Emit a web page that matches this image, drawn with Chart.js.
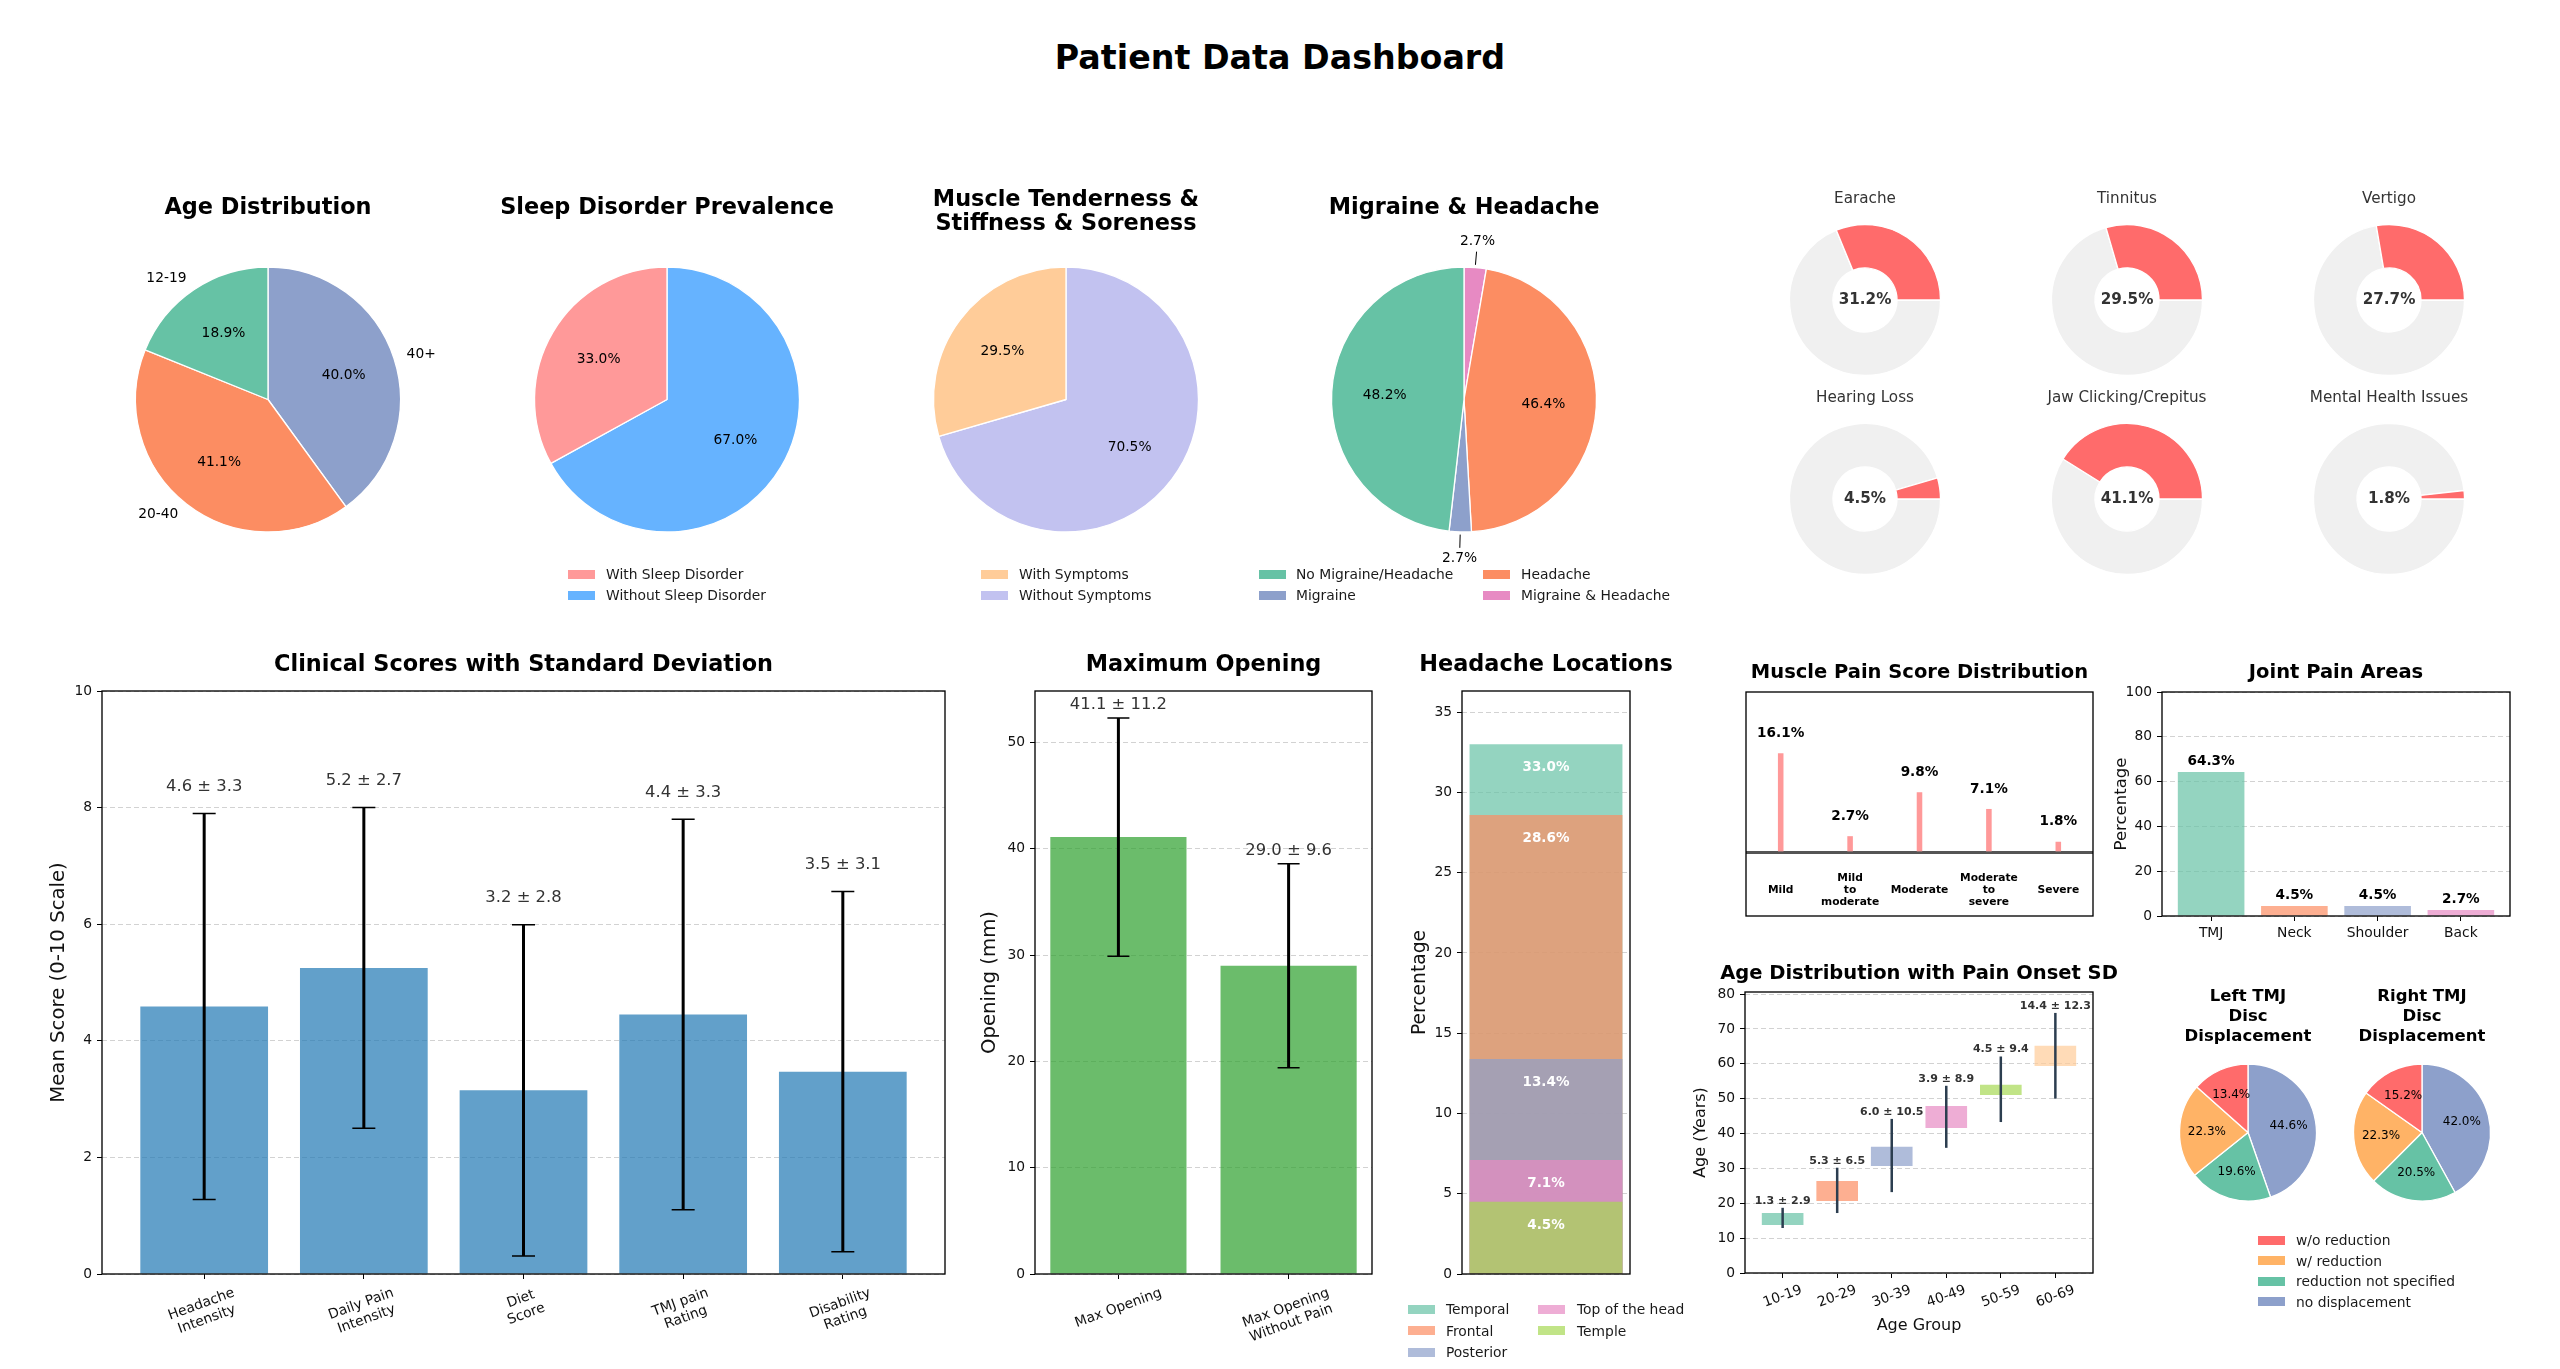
<!DOCTYPE html>
<html>
<head>
<meta charset="utf-8">
<title>Patient Data Dashboard</title>
<script src="https://cdn.jsdelivr.net/npm/chart.js@4"></script>
<style>
  html, body { margin: 0; background: #fff; }
  body { position: relative; width: 2560px; height: 1369px; overflow: hidden; font-family: "DejaVu Sans", sans-serif; }
  canvas { position: absolute; }
  h1 { position: absolute; left: 0; width: 2560px; top: 38px; margin: 0; text-align: center; font-size: 33.3px; line-height: 40px; font-weight: bold; color: #000; }
  .swatch { position: absolute; height: 9px; }
  .legendText { position: absolute; font-size: 13.85px; line-height: 16px; color: #1a1a1a; white-space: nowrap; }
</style>
</head>
<body>
<h1>Patient Data Dashboard</h1>
<script>
// ---- data ----
const ageLabels = ["12-19", "20-40", "40+"];
const ageShare = [18.9, 41.1, 40.0];

const sleepLabels = ["With Sleep Disorder", "Without Sleep Disorder"];
const sleepShare = [33.0, 67.0];

const tendernessLabels = ["With Symptoms", "Without Symptoms"];
const tendernessShare = [29.5, 70.5];

const migraineLabels = ["No Migraine/Headache", "Migraine", "Headache", "Migraine & Headache"];
const migraineShare = [48.2, 2.7, 46.4, 2.7];

const symptomNames = ["Earache", "Tinnitus", "Vertigo", "Hearing Loss", "Jaw Clicking/Crepitus", "Mental Health Issues"];
const symptomShare = [31.2, 29.5, 27.7, 4.5, 41.1, 1.8];

const clinicalLabels = [["Headache", "Intensity"], ["Daily Pain", "Intensity"], ["Diet", "Score"], ["TMJ pain", "Rating"], ["Disability", "Rating"]];
const clinicalMean = [4.59, 5.25, 3.15, 4.45, 3.47];
const clinicalSd = [3.31, 2.75, 2.84, 3.35, 3.09];
const clinicalText = ["4.6 ± 3.3", "5.2 ± 2.7", "3.2 ± 2.8", "4.4 ± 3.3", "3.5 ± 3.1"];

const openingLabels = [["Max Opening"], ["Max Opening", "Without Pain"]];
const openingMean = [41.1, 29.0];
const openingSd = [11.2, 9.6];
const openingText = ["41.1 ± 11.2", "29.0 ± 9.6"];

const headacheLabels = ["Temporal", "Frontal", "Posterior", "Top of the head", "Temple"];
const headacheShare = [33.0, 28.6, 13.4, 7.1, 4.5];

const musclePainLabels = [["Mild"], ["Mild", "to", "moderate"], ["Moderate"], ["Moderate", "to", "severe"], ["Severe"]];
const musclePainShare = [16.1, 2.7, 9.8, 7.1, 1.8];

const jointLabels = ["TMJ", "Neck", "Shoulder", "Back"];
const jointShare = [64.3, 4.5, 4.5, 2.7];

const ageGroupLabels = ["10-19", "20-29", "30-39", "40-49", "50-59", "60-69"];
const ageGroupLow = [13.5, 20.4, 30.4, 41.3, 50.8, 59.1];
const ageGroupHigh = [17.5, 26.7, 36.5, 48.2, 54.3, 65.5];
const onsetCentre = [15.8, 23.7, 33.7, 44.8, 52.7, 62.3];
const onsetSd = [2.9, 6.5, 10.5, 8.9, 9.4, 12.3];
const onsetText = ["1.3 ± 2.9", "5.3 ± 6.5", "6.0 ± 10.5", "3.9 ± 8.9", "4.5 ± 9.4", "14.4 ± 12.3"];

const discLabels = ["w/o reduction", "w/ reduction", "reduction not specified", "no displacement"];
const discLeft = [13.4, 22.3, 19.6, 44.6];
const discRight = [15.2, 22.3, 20.5, 42.0];

// ---- colours ----
const set2 = ["#66c2a5", "#fc8d62", "#8da0cb", "#e78ac3", "#a6d854"];
const set2Soft = ["rgba(102,194,165,.7)", "rgba(252,141,98,.7)", "rgba(141,160,203,.7)", "rgba(231,138,195,.7)", "rgba(166,216,84,.7)", "rgba(255,204,153,.7)"];
const discColors = ["#ff6b6b", "#ffb366", "#66c2a5", "#8da0cb"];

const FONT = '"DejaVu Sans"';
Chart.defaults.font.family = FONT;
Chart.defaults.color = "#111";
Chart.defaults.animation = false;

// ---- small plugins ----
function frame() {
  return {
    id: "frame",
    afterDatasetsDraw(chart) {
      const a = chart.chartArea, ctx = chart.ctx;
      ctx.save();
      ctx.strokeStyle = "#000";
      ctx.lineWidth = 1.33;
      ctx.strokeRect(a.left, a.top, a.right - a.left, a.bottom - a.top);
      ctx.restore();
    }
  };
}

function errorBars(centres, spreads, color, lineWidth, capWidth) {
  return {
    id: "errorBars",
    afterDatasetsDraw(chart) {
      const ctx = chart.ctx, xs = chart.scales.x, ys = chart.scales.y;
      ctx.save();
      ctx.strokeStyle = color;
      centres.forEach((c, i) => {
        const x = xs.getPixelForValue(i);
        const top = ys.getPixelForValue(c + spreads[i]);
        const bottom = ys.getPixelForValue(c - spreads[i]);
        ctx.lineWidth = lineWidth;
        ctx.beginPath();
        ctx.moveTo(x, top);
        ctx.lineTo(x, bottom);
        ctx.stroke();
        if (capWidth) {
          ctx.lineWidth = 1.5;
          ctx.beginPath();
          ctx.moveTo(x - capWidth / 2, top);
          ctx.lineTo(x + capWidth / 2, top);
          ctx.moveTo(x - capWidth / 2, bottom);
          ctx.lineTo(x + capWidth / 2, bottom);
          ctx.stroke();
        }
      });
      ctx.restore();
    }
  };
}

// text placed in data coordinates, x = bar index
function textMarks(items, font, color, lineGap) {
  return {
    id: "textMarks",
    afterDatasetsDraw(chart) {
      const ctx = chart.ctx, xs = chart.scales.x, ys = chart.scales.y;
      ctx.save();
      ctx.font = font;
      ctx.fillStyle = color;
      ctx.textAlign = "center";
      ctx.textBaseline = "middle";
      items.forEach((it) => {
        const lines = [].concat(it.text);
        const x = xs.getPixelForValue(it.x);
        const y = ys.getPixelForValue(it.y);
        lines.forEach((line, n) => {
          ctx.fillText(line, x, y + (n - (lines.length - 1) / 2) * (lineGap || 0));
        });
      });
      ctx.restore();
    }
  };
}

// matplotlib style tick text: rotated about its own centre, hanging under the tick
function tickText(labels, degrees, gap) {
  return {
    id: "tickText",
    afterDraw(chart) {
      const ctx = chart.ctx, xs = chart.scales.x, bottom = chart.chartArea.bottom;
      const angle = degrees * Math.PI / 180, lineGap = 16;
      ctx.save();
      ctx.font = "13.85px " + FONT;
      ctx.fillStyle = "#111";
      ctx.textAlign = "center";
      ctx.textBaseline = "middle";
      labels.forEach((label, i) => {
        const lines = [].concat(label);
        const w = Math.max(...lines.map((l) => ctx.measureText(l).width));
        const h = lines.length * lineGap;
        const boxH = w * Math.sin(angle) + h * Math.cos(angle);
        ctx.save();
        ctx.translate(xs.getPixelForValue(i), bottom + gap + boxH / 2);
        ctx.rotate(-angle);
        lines.forEach((line, n) => ctx.fillText(line, 0, (n - (lines.length - 1) / 2) * lineGap));
        ctx.restore();
      });
      ctx.restore();
    }
  };
}

// percent text, outer names and leader lines for the pies
function sliceText(values, names, size) {
  return {
    id: "sliceText",
    afterDatasetsDraw(chart) {
      const ctx = chart.ctx, arcs = chart.getDatasetMeta(0).data;
      ctx.save();
      ctx.font = size + "px " + FONT;
      ctx.fillStyle = "#000";
      ctx.strokeStyle = "#000";
      ctx.textBaseline = "middle";
      arcs.forEach((arc, i) => {
        const mid = (arc.startAngle + arc.endAngle) / 2;
        const dx = Math.cos(mid), dy = Math.sin(mid), r = arc.outerRadius;
        const small = values[i] < 5;
        const d = small ? 1.2 * r : 0.6 * r;
        ctx.textAlign = "center";
        ctx.fillText(values[i].toFixed(1) + "%", arc.x + dx * d, arc.y + dy * d);
        if (small) {
          ctx.lineWidth = 1;
          ctx.beginPath();
          ctx.moveTo(arc.x + dx * r * 1.02, arc.y + dy * r * 1.02);
          ctx.lineTo(arc.x + dx * r * 1.12, arc.y + dy * r * 1.12);
          ctx.stroke();
        }
        if (names) {
          ctx.textAlign = dx < 0 ? "right" : "left";
          ctx.fillText(names[i], arc.x + dx * r * 1.1, arc.y + dy * r * 1.1);
        }
      });
      ctx.restore();
    }
  };
}

function centreText(text) {
  return {
    id: "centreText",
    afterDatasetsDraw(chart) {
      const ctx = chart.ctx, arc = chart.getDatasetMeta(0).data[0];
      ctx.save();
      ctx.font = "bold 15.2px " + FONT;
      ctx.fillStyle = "#333";
      ctx.textAlign = "center";
      ctx.textBaseline = "middle";
      ctx.fillText(text, arc.x, arc.y);
      ctx.restore();
    }
  };
}

// ---- helpers ----
// area is the plot rectangle on the page, title.y the centre of the title block
function addChart(area, margin, title, config) {
  const lines = [].concat(title.text);
  const lineHeight = title.lineHeight || 1.1;
  const titleH = lines.length * title.size * lineHeight;
  const top = Math.round(title.y - titleH / 2);
  const left = area.l - margin.left;
  const canvas = document.createElement("canvas");
  canvas.width = area.r - area.l + margin.left + margin.right;
  canvas.height = area.b + margin.bottom - top;
  canvas.style.left = left + "px";
  canvas.style.top = top + "px";
  document.body.appendChild(canvas);

  const opts = config.options = config.options || {};
  opts.responsive = false;
  opts.plugins = Object.assign({ legend: { display: false }, tooltip: { enabled: false } }, opts.plugins);
  opts.plugins.title = {
    display: true,
    text: lines,
    color: title.color || "#000",
    font: { size: title.size, weight: title.weight || "bold", lineHeight: lineHeight },
    padding: { top: 0, bottom: area.t - top - titleH }
  };
  if (config.type === "bar") {
    opts.scales.x.afterFit = (s) => { s.height = margin.bottom; };
    opts.scales.y.afterFit = (s) => { s.width = margin.left; };
    // empty axis on the right, it keeps the canvas symmetric so the title centres on the plot
    opts.scales.yRight = {
      position: "right",
      ticks: { display: false },
      grid: { display: false },
      border: { display: false },
      afterFit: (s) => { s.width = margin.right; }
    };
  } else {
    opts.layout = { padding: { bottom: margin.bottom } };
  }
  return new Chart(canvas, config);
}

function pie(cx, cy, r, values, colors, title, extra) {
  const R = r + 6;
  // the library runs clockwise from the top, the picture runs counterclockwise
  const data = values.slice().reverse();
  const names = extra && extra.names ? extra.names.slice().reverse() : null;
  addChart({ l: cx - Math.ceil(R) - 60, r: cx + Math.ceil(R) + 60, t: cy - R, b: cy + R }, { left: 0, right: 0, bottom: 36 }, title, {
    type: "pie",
    data: {
      labels: data.map(String),
      datasets: [{ data: data, backgroundColor: colors.slice().reverse(), borderColor: "#fff", borderWidth: 1.33 }]
    },
    options: { radius: r },
    plugins: [sliceText(data, names, (extra && extra.size) || 13.8)]
  });
}

function donut(cx, cy, name, share) {
  const R = 82;
  addChart({ l: cx - R - 50, r: cx + R + 50, t: cy - R, b: cy + R }, { left: 0, right: 0, bottom: 0 },
    { text: name, size: 15.2, weight: "normal", color: "#333", y: cy - 101 }, {
      type: "doughnut",
      data: {
        labels: ["rest", name],
        datasets: [{ data: [100 - share, share], backgroundColor: ["#f0f0f0", "#ff6b6b"], borderColor: "#fff", borderWidth: 1.33 }]
      },
      options: { radius: 75.5, cutout: 34.5, rotation: 90 },
      plugins: [centreText(share.toFixed(1) + "%")]
    });
}

function xAxis(count, titleText) {
  const pad = 0.4 + 0.05 * (count - 1 + 0.8);
  const axis = {
    type: "linear",
    min: -pad,
    max: count - 1 + pad,
    offset: false,
    ticks: { display: false },
    afterBuildTicks: (s) => { s.ticks = Array.from({ length: count }, (_, i) => ({ value: i })); },
    grid: { offset: false, color: "transparent", drawOnChartArea: false, tickColor: "#000", tickLength: 5 },
    border: { display: false }
  };
  if (titleText) axis.title = { display: true, text: titleText, color: "#111", font: { size: 16 }, padding: 0 };
  return axis;
}

function yAxis(max, step, titleText, titleSize) {
  return {
    min: 0,
    max: max,
    ticks: { stepSize: step, includeBounds: false, padding: 5, font: { size: 13.85 }, color: "#111" },
    grid: { color: "#d2d2d2", tickColor: "#000", tickLength: 5 },
    border: { display: false, dash: [5, 3] },
    title: titleText ? { display: true, text: titleText, color: "#111", font: { size: titleSize }, padding: 0 } : { display: false }
  };
}

function xyPoints(values) {
  return values.map((v, i) => ({ x: i, y: v }));
}

function addLegend(labels, colors, swatchX, textX, firstY, rowGap) {
  labels.forEach((label, i) => {
    const y = firstY + i * rowGap;
    const swatch = document.createElement("div");
    swatch.className = "swatch";
    swatch.style.cssText = `left:${swatchX}px;top:${y - 4.5}px;width:27px;background:${colors[i]}`;
    const text = document.createElement("div");
    text.className = "legendText";
    text.style.cssText = `left:${textX}px;top:${y - 8}px`;
    text.textContent = label;
    document.body.append(swatch, text);
  });
}

// ---- top row ----
pie(268, 399.5, 132.5, ageShare, [set2[0], set2[1], set2[2]],
  { text: "Age Distribution", size: 22.4, y: 208 }, { names: ageLabels });
pie(667, 399.5, 132.5, sleepShare, ["#ff9999", "#66b3ff"],
  { text: "Sleep Disorder Prevalence", size: 22.4, y: 208 });
pie(1066, 399.5, 132.5, tendernessShare, ["#ffcc99", "#c2c2f0"],
  { text: ["Muscle Tenderness &", "Stiffness & Soreness"], size: 22.4, lineHeight: 1.04, y: 212.5 });
pie(1464, 399.5, 132.5, migraineShare, [set2[0], set2[2], set2[1], set2[3]],
  { text: "Migraine & Headache", size: 22.4, y: 208 });

addLegend(sleepLabels, ["#ff9999", "#66b3ff"], 568, 606, 574, 21);
addLegend(tendernessLabels, ["#ffcc99", "#c2c2f0"], 981, 1019, 574, 21);
addLegend(migraineLabels.slice(0, 2), [set2[0], set2[2]], 1259, 1296, 574, 21);
addLegend(migraineLabels.slice(2), [set2[1], set2[3]], 1483, 1521, 574, 21);

[1865, 2127, 2389].forEach((cx, i) => donut(cx, 300, symptomNames[i], symptomShare[i]));
[1865, 2127, 2389].forEach((cx, i) => donut(cx, 499, symptomNames[i + 3], symptomShare[i + 3]));

// ---- clinical scores ----
addChart({ l: 102, r: 945, t: 691, b: 1274 }, { left: 55, right: 55, bottom: 80 }, { text: "Clinical Scores with Standard Deviation", size: 22.4, y: 665.5 }, {
  type: "bar",
  data: {
    datasets: [{ data: xyPoints(clinicalMean), backgroundColor: "rgba(31,119,180,.7)", barPercentage: 0.8, categoryPercentage: 1 }]
  },
  options: { scales: { x: xAxis(clinicalMean.length), y: yAxis(10, 2, "Mean Score (0-10 Scale)", 19.7) } },
  plugins: [
    errorBars(clinicalMean, clinicalSd, "#000", 3, 23),
    textMarks(clinicalText.map((t, i) => ({ x: i, y: clinicalMean[i] + clinicalSd[i] + 0.46, text: t })), "16.4px " + FONT, "#333"),
    frame(),
    tickText(clinicalLabels, 20, 11)
  ]
});

// ---- maximum opening ----
addChart({ l: 1035, r: 1372, t: 691, b: 1274 }, { left: 57, right: 57, bottom: 80 }, { text: "Maximum Opening", size: 22.4, y: 665.5 }, {
  type: "bar",
  data: {
    datasets: [{ data: xyPoints(openingMean), backgroundColor: "rgba(44,160,44,.7)", barPercentage: 0.8, categoryPercentage: 1 }]
  },
  options: { scales: { x: xAxis(openingMean.length), y: yAxis(54.84, 10, "Opening (mm)", 19.7) } },
  plugins: [
    errorBars(openingMean, openingSd, "#000", 3, 22),
    textMarks(openingText.map((t, i) => ({ x: i, y: openingMean[i] + openingSd[i] + 1.2, text: t })), "16.4px " + FONT, "#333"),
    frame(),
    tickText(openingLabels, 20, 11)
  ]
});

// ---- headache locations: overlaid bars, all from zero ----
const headacheChartX = xAxis(1);
headacheChartX.grid.tickColor = "transparent";
addChart({ l: 1462, r: 1630, t: 691, b: 1274 }, { left: 53, right: 53, bottom: 20 }, { text: "Headache Locations", size: 22.4, y: 665.5 }, {
  type: "bar",
  data: {
    datasets: headacheShare.map((v, i) => ({
      label: headacheLabels[i],
      data: [{ x: 0, y: v }],
      order: headacheShare.length - i,
      grouped: false,
      backgroundColor: set2Soft[i],
      barPercentage: 0.91,
      categoryPercentage: 1
    }))
  },
  options: { scales: { x: headacheChartX, y: yAxis(36.32, 5, "Percentage", 18.7) } },
  plugins: [
    textMarks(headacheShare.map((v) => ({ x: 0, y: v - 1.45, text: v.toFixed(1) + "%" })), "bold 13.5px " + FONT, "#fff"),
    frame()
  ]
});
addLegend(headacheLabels.slice(0, 3), set2Soft.slice(0, 3), 1408, 1446, 1309, 21.5);
addLegend(headacheLabels.slice(3), set2Soft.slice(3), 1538, 1577, 1309, 21.5);

// ---- muscle pain score ----
const muscleX = xAxis(5);
muscleX.min = -0.5;
muscleX.max = 4.5;
muscleX.grid.tickColor = "transparent";
addChart({ l: 1746, r: 2093, t: 692, b: 916 }, { left: 30, right: 30, bottom: 10 }, { text: "Muscle Pain Score Distribution", size: 19.5, y: 673 }, {
  type: "bar",
  data: {
    datasets: [{ data: xyPoints(musclePainShare), backgroundColor: "#ff9999", barPercentage: 0.08, categoryPercentage: 1 }]
  },
  options: {
    scales: {
      x: muscleX,
      y: {
        min: -10.2,
        max: 26,
        ticks: { display: false, stepSize: 10 },
        grid: { color: (c) => (c.tick.value === 0 ? "#555" : "transparent"), lineWidth: 3, drawTicks: false },
        border: { display: false }
      }
    }
  },
  plugins: [
    textMarks(musclePainShare.map((v, i) => ({ x: i, y: v + 3.2, text: v.toFixed(1) + "%" })), "bold 13.6px " + FONT, "#000"),
    textMarks(musclePainLabels.map((l, i) => ({ x: i, y: -6, text: l })), "bold 10.7px " + FONT, "#000", 12),
    frame()
  ]
});

// ---- joint pain ----
addChart({ l: 2162, r: 2510, t: 692, b: 916 }, { left: 50, right: 50, bottom: 30 }, { text: "Joint Pain Areas", size: 19.5, y: 673 }, {
  type: "bar",
  data: {
    datasets: [{ data: xyPoints(jointShare), backgroundColor: set2Soft.slice(0, 4), barPercentage: 0.8, categoryPercentage: 1 }]
  },
  options: { scales: { x: xAxis(jointShare.length), y: yAxis(100, 20, "Percentage", 16.5) } },
  plugins: [
    textMarks(jointShare.map((v, i) => ({ x: i, y: v + 4.5, text: v.toFixed(1) + "%" })), "bold 13.6px " + FONT, "#000"),
    frame(),
    tickText(jointLabels, 0, 9)
  ]
});

// ---- age groups with pain onset spread ----
addChart({ l: 1745, r: 2093, t: 992, b: 1273 }, { left: 54, right: 54, bottom: 62 }, { text: "Age Distribution with Pain Onset SD", size: 19.5, y: 974 }, {
  type: "bar",
  data: {
    datasets: [{
      data: ageGroupLow.map((low, i) => ({ x: i, y: [low, ageGroupHigh[i]] })),
      backgroundColor: set2Soft,
      borderColor: "rgba(255,255,255,.6)",
      borderWidth: 1,
      borderSkipped: false,
      barPercentage: 0.8,
      categoryPercentage: 1
    }]
  },
  options: { scales: { x: xAxis(ageGroupLow.length, "Age Group"), y: yAxis(80.6, 10, "Age (Years)", 16) } },
  plugins: [
    errorBars(onsetCentre, onsetSd, "#2c3e50", 2.5, 0),
    textMarks(onsetText.map((t, i) => ({ x: i, y: onsetCentre[i] + onsetSd[i] + 2, text: t })), "bold 11px " + FONT, "#333"),
    frame(),
    tickText(ageGroupLabels, 20, 9)
  ]
});

// ---- disc displacement ----
pie(2248, 1132.5, 68.5, discLeft, discColors, { text: ["Left TMJ", "Disc", "Displacement"], size: 16.5, lineHeight: 1.24, y: 1017 }, { size: 12 });
pie(2422, 1132.5, 68.5, discRight, discColors, { text: ["Right TMJ", "Disc", "Displacement"], size: 16.5, lineHeight: 1.24, y: 1017 }, { size: 12 });
addLegend(discLabels, discColors, 2258, 2296, 1240, 20.6);
</script>
</body>
</html>
